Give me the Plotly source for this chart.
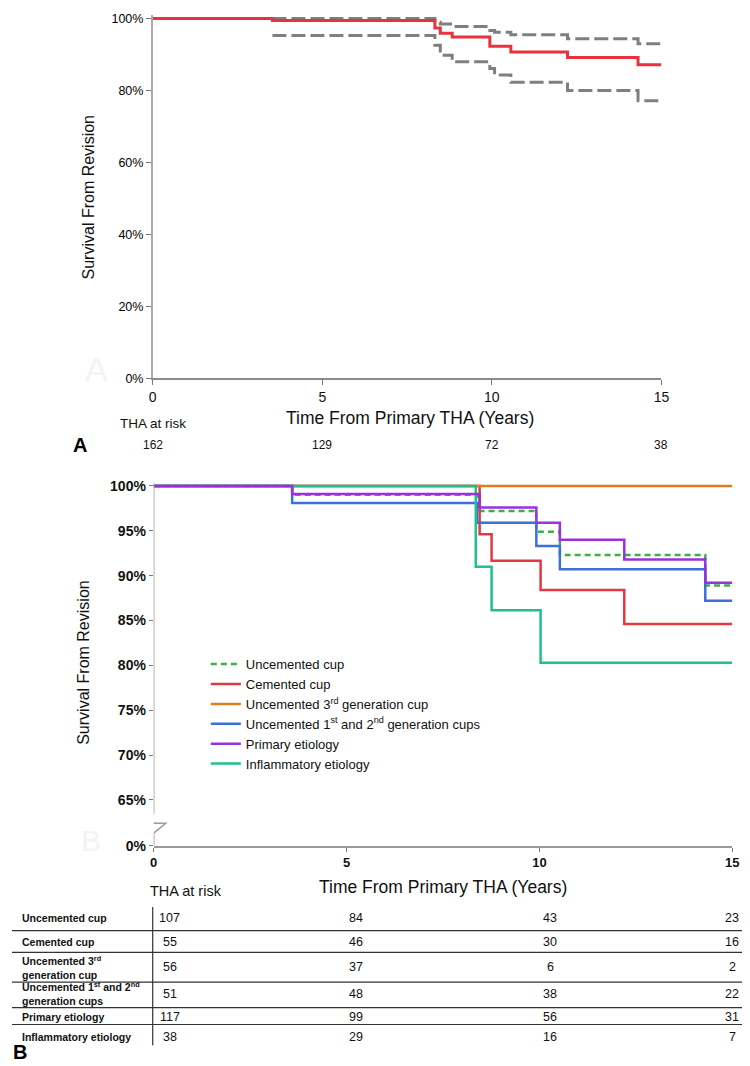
import plotly.graph_objects as go

# ---- Panel A: overall Kaplan-Meier with 95% CI ----
a_time = [0, 3.53, 8.32, 8.48, 8.83, 9.94, 10.56, 12.23, 14.31, 15]
a_surv = [100, 99.45, 97.4, 95.9, 94.9, 92.3, 90.7, 89.2, 87.2, 87.2]
a_ci_time = [3.53, 8.32, 8.48, 8.83, 9.94, 10.08, 10.56, 12.23, 14.31, 15]
a_ci_upper = [100, 99.0, 98.5, 97.8, 96.7, 96.2, 95.5, 94.4, 93.0, 93.0]
a_ci_lower = [95.3, 92.6, 89.8, 88.0, 86.1, 84.3, 82.3, 80.0, 77.2, 77.2]

risk_years = [0, 5, 10, 15]
a_at_risk = [162, 129, 72, 38]

# ---- Panel B: subgroups ----
b_names = [
    "Uncemented cup",
    "Cemented cup",
    "Uncemented 3<sup>rd</sup> generation cup",
    "Uncemented 1<sup>st</sup> and 2<sup>nd</sup> generation cups",
    "Primary etiology",
    "Inflammatory etiology",
]
b_time = [
    [0, 3.59, 8.40, 9.92, 10.53, 14.3, 15],
    [0, 8.45, 8.76, 10.03, 12.2, 15],
    [0, 15],
    [0, 3.59, 8.38, 9.92, 10.53, 14.3, 15],
    [0, 3.59, 8.45, 9.92, 10.53, 12.2, 14.3, 15],
    [0, 8.35, 8.76, 10.03, 15],
]
b_surv = [
    [100, 99.0, 97.2, 94.9, 92.3, 88.9, 88.9],
    [100, 94.6, 91.65, 88.4, 84.6, 84.6],
    [100, 100],
    [100, 98.1, 95.9, 93.3, 90.7, 87.2, 87.2],
    [100, 99.1, 97.6, 95.9, 94.0, 91.8, 89.2, 89.2],
    [100, 91.0, 86.15, 80.3, 80.3],
]
b_colors = ["#3cb043", "#e2383f", "#e07b20", "#3a6fdc", "#9a30e0", "#1fbf8f"]
b_dash = ["6px,4px", "solid", "solid", "solid", "solid", "solid"]
draw_order = [0, 1, 2, 3, 5, 4]

table_rows = [
    "Uncemented cup",
    "Cemented cup",
    "Uncemented 3<sup>rd</sup><br>generation cup",
    "Uncemented 1<sup>st</sup> and 2<sup>nd</sup><br>generation cups",
    "Primary etiology",
    "Inflammatory etiology",
]
b_at_risk = [
    [107, 84, 43, 23],
    [55, 46, 30, 16],
    [56, 37, 6, 2],
    [51, 48, 38, 22],
    [117, 99, 56, 31],
    [38, 29, 16, 7],
]

W, H = 750, 1066
ARIAL = "Liberation Sans, Arial, sans-serif"


def py(px):
    # pixel row -> paper y
    return 1 - px / H


def label(text, x, y, size, xref="paper", xanchor="center", bold=False, color="#111", **kw):
    f = dict(family=ARIAL, size=size, color=color)
    if bold:
        f["weight"] = "bold"
    return dict(text=text, x=x, y=py(y), xref=xref, yref="paper", xanchor=xanchor,
                yanchor="middle", showarrow=False, font=f, **kw)


fig = go.Figure()

fig.add_trace(go.Scatter(x=a_ci_time, y=a_ci_upper, mode="lines", line_shape="hv",
                         line=dict(color="#7f7f7f", width=3, dash="14px,5px"),
                         showlegend=False, xaxis="x", yaxis="y"))
fig.add_trace(go.Scatter(x=a_ci_time, y=a_ci_lower, mode="lines", line_shape="hv",
                         line=dict(color="#7f7f7f", width=3, dash="14px,5px"),
                         showlegend=False, xaxis="x", yaxis="y"))
fig.add_trace(go.Scatter(x=a_time, y=a_surv, mode="lines", line_shape="hv",
                         line=dict(color="#e8333f", width=3),
                         showlegend=False, xaxis="x", yaxis="y"))

for i in draw_order:
    fig.add_trace(go.Scatter(x=b_time[i], y=b_surv[i], mode="lines", line_shape="hv",
                             name=b_names[i], legendrank=i + 1,
                             line=dict(color=b_colors[i], width=2.5, dash=b_dash[i]),
                             xaxis="x2", yaxis="y2"))

y2_low = 59.9
fig.update_layout(
    width=W, height=H,
    margin=dict(l=0, r=0, t=0, b=0),
    paper_bgcolor="white", plot_bgcolor="white",
    font=dict(family=ARIAL, color="#111"),
    xaxis=dict(domain=[143 / W, 660 / W], range=[0, 15], anchor="y",
               tickvals=risk_years, ticks="outside", ticklen=5, tickcolor="#777",
               showline=True, linecolor="#8a8a8a", linewidth=1.5,
               showgrid=False, zeroline=False,
               tickfont=dict(family=ARIAL, size=14, color="#111")),
    yaxis=dict(domain=[py(370), py(2)], range=[0, 101], anchor="x",
               tickvals=[0, 20, 40, 60, 80, 100],
               ticktext=["0%", "20%", "40%", "60%", "80%", "100%"],
               ticks="outside", ticklen=5, tickcolor="#777",
               showline=True, linecolor="#aaaaaa", linewidth=1.5,
               showgrid=False, zeroline=False,
               tickfont=dict(family=ARIAL, size=12.5, color="#000")),
    xaxis2=dict(domain=[144 / W, 732 / W], range=[0, 15], anchor="y2",
                tickvals=risk_years, ticks="outside", ticklen=4, tickcolor="#777",
                showline=True, linecolor="#9a9a9a", linewidth=2,
                showgrid=False, zeroline=False,
                tickfont=dict(family=ARIAL, size=13, color="#111", weight="bold")),
    yaxis2=dict(domain=[py(843), py(476)], range=[y2_low, 100.3], anchor="x2",
                tickvals=[y2_low, 65, 70, 75, 80, 85, 90, 95, 100],
                ticktext=["0%", "65%", "70%", "75%", "80%", "85%", "90%", "95%", "100%"],
                ticks="outside", ticklen=4, tickcolor="#777",
                showline=False, showgrid=False, zeroline=False,
                tickfont=dict(family=ARIAL, size=14, color="#111", weight="bold")),
    legend=dict(x=197 / W, y=py(644), xanchor="left", yanchor="top",
                bgcolor="rgba(0,0,0,0)", tracegroupgap=0, itemwidth=30,
                font=dict(family=ARIAL, size=13, color="#111")),
)

# broken y axis for panel B
shape_line = dict(color="#9a9a9a", width=1.5)
fig.add_shape(type="line", xref="x2", yref="y2", x0=0, x1=0, y0=63.5, y1=100.3, line=shape_line)
fig.add_shape(type="line", xref="x2", yref="y2", x0=0, x1=0, y0=y2_low, y1=61.3, line=shape_line)
fig.add_shape(type="path", xref="x2", yref="y2", xsizemode="pixel", xanchor=0,
              path="M0,63.5 L-10,62.4 L12,62.4 L0,61.3", line=shape_line)

ann = []
# axis titles
ann.append(label("Survival From Revision", 78 / W, 187, 16, textangle=-90))
ann.append(label("Survival From Revision", 73 / W, 658, 16, textangle=-90))
ann.append(label("Time From Primary THA (Years)", 404 / W, 410, 17.5))
ann.append(label("Time From Primary THA (Years)", 438 / W, 885, 17.5))

# faint panel watermarks
ann.append(label("A", 86 / W, 360, 34, color="#f3f3f3"))
ann.append(label("B", 80 / W, 838, 30, color="#f3f3f3"))

# panel letters
ann.append(label("A", 69 / W, 437, 20, bold=True, color="#000"))
ann.append(label("B", 8 / W, 1052, 20, bold=True, color="#000"))

# at-risk panel A
ann.append(label("THA at risk", 143 / W, 416, 13.5))
for yr, n in zip(risk_years, a_at_risk):
    ann.append(label(str(n), yr, 437, 12, xref="x"))

# at-risk table panel B
ann.append(label("THA at risk", 177 / W, 889, 14.5))
row_y = [916, 940, 966, 993, 1016, 1037]
line_y = [929, 951, 981, 1007, 1024]
col_shift = [16, 9, 11, 0]
for r, text in enumerate(table_rows):
    ann.append(label(text, 8 / W, row_y[r], 10.5, xanchor="left", bold=True, align="left"))
    for c, yr in enumerate(risk_years):
        ann.append(label(str(b_at_risk[r][c]), yr, row_y[r], 12.5, xref="x2", xshift=col_shift[c]))
fig.update_layout(annotations=ann)

for ly in line_y:
    fig.add_shape(type="line", xref="paper", yref="paper", x0=0, x1=1, y0=py(ly), y1=py(ly),
                  line=dict(color="#333", width=1.2))
fig.add_shape(type="line", xref="paper", yref="paper", x0=143 / W, x1=143 / W,
              y0=py(905), y1=py(1045), line=dict(color="#333", width=1.2))

fig.write_html("out.html")
